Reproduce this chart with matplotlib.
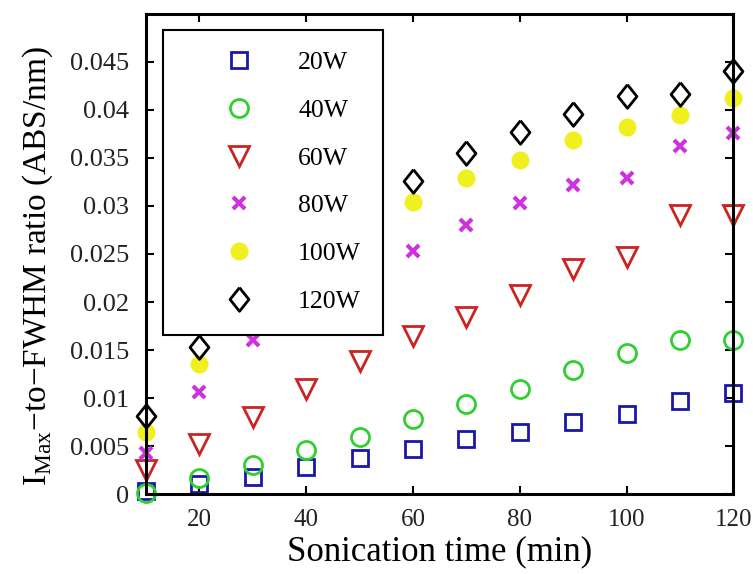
import numpy as np
import matplotlib.pyplot as plt
from matplotlib.ticker import FuncFormatter

plt.rcParams['font.family'] = ['Liberation Serif', 'DejaVu Serif']
plt.rcParams['mathtext.fontset'] = 'custom'
plt.rcParams['mathtext.rm'] = 'Liberation Serif'

# sonication time (min)
time = np.arange(10, 130, 10)

# I_Max-to-FWHM ratio for each power (values behind the legend are estimates)
w20 = [0.0003, 0.0011, 0.0018, 0.0028, 0.0038, 0.0047, 0.0057, 0.0065, 0.0075, 0.0084, 0.0097, 0.0105]
w40 = [0.0001, 0.0017, 0.0030, 0.0046, 0.0060, 0.0078, 0.0094, 0.0109, 0.0129, 0.0147, 0.0161, 0.0161]
w60 = [0.0025, 0.0052, 0.0080, 0.0110, 0.0139, 0.0165, 0.0184, 0.0207, 0.0234, 0.0247, 0.0291, 0.0291]
w80 = [0.0043, 0.0106, 0.0160, 0.0195, 0.0225, 0.0253, 0.0280, 0.0303, 0.0322, 0.0329, 0.0362, 0.0376]
w100 = [0.0065, 0.0135, 0.0185, 0.0230, 0.0270, 0.0304, 0.0329, 0.0348, 0.0369, 0.0382, 0.0395, 0.0412]
w120 = [0.0081, 0.0153, 0.0210, 0.0255, 0.0295, 0.0326, 0.0355, 0.0377, 0.0396, 0.0414, 0.0416, 0.0440]

labels = ['20W', '40W', '60W', '80W', '100W', '120W']

diamond = [(0, 1), (0.8, 0), (0, -1), (-0.8, 0), (0, 1)]

fig = plt.figure(figsize=(7.53, 5.74), dpi=100)
ax = fig.add_axes([0.194, 0.139, 0.780, 0.837])

ax.plot(time, w20, ls='none', marker='s', ms=11, mfc='none', mec='#1818a8', mew=2, label=labels[0], clip_on=False)
ax.plot(time, w40, ls='none', marker='o', ms=13, mfc='none', mec='#30d030', mew=2, label=labels[1], clip_on=False)
ax.plot(time, w60, ls='none', marker='v', ms=15, mfc='none', mec='#cc2222', mew=2, label=labels[2], clip_on=False)
ax.plot(time, w80, ls='none', marker='x', ms=9, mec='#cc33dd', mew=3, label=labels[3], clip_on=False)
ax.plot(time, w100, ls='none', marker='o', ms=13, mfc='#f0f020', mec='#f0f020', mew=0, label=labels[4], clip_on=False)
ax.plot(time, w120, ls='none', marker=diamond, ms=17, mfc='none', mec='black', mew=2, label=labels[5], clip_on=False)

ax.set_xlim(10, 120)
ax.set_ylim(0, 0.05)
ax.set_xticks([20, 40, 60, 80, 100, 120])
ax.set_yticks(np.arange(0, 0.0451, 0.005))
ax.yaxis.set_major_formatter(FuncFormatter(lambda v, p: ('%.3f' % v).rstrip('0').rstrip('.')))
ax.tick_params(direction='in', top=True, right=True, length=6, width=1.5, labelsize=18,
               labelcolor='#222222')
ax.tick_params(axis='x', pad=11)
ax.tick_params(axis='y', pad=12, labelsize=19)

for s in ax.spines.values():
    s.set_linewidth(2.2)

ax.set_xlabel('Sonication time (min)', fontsize=25, labelpad=3)
ax.set_ylabel('I$_{\\mathrm{Max}}$\u2212to\u2212FWHM ratio (ABS/nm)', fontsize=24)
ax.yaxis.set_label_coords(-0.155, 0.475)

leg = ax.legend(loc='upper left', bbox_to_anchor=(0.029, 0.967), borderaxespad=0, numpoints=1,
                fontsize=18.5, frameon=True, fancybox=False, framealpha=1, edgecolor='black',
                handlelength=4.2, handletextpad=0.2, labelspacing=0.96, borderpad=0.85)
leg.get_frame().set_linewidth(1.5)
leg.set_zorder(5)

fig.savefig('out.png', dpi=100)
